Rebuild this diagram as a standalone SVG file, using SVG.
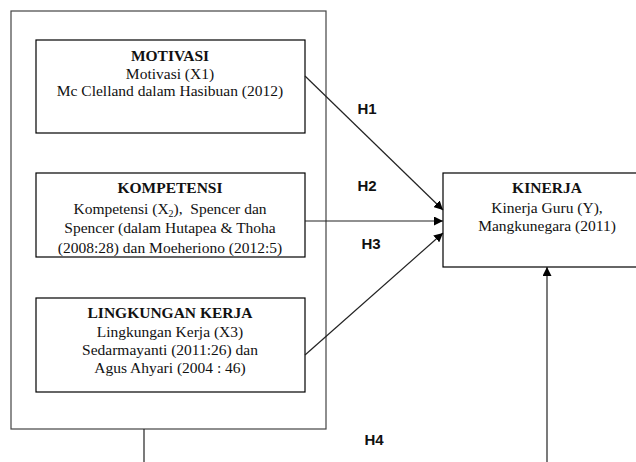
<svg xmlns="http://www.w3.org/2000/svg" width="636" height="462" viewBox="0 0 636 462">
<defs>
<style>
.box{fill:#fff;stroke:#000;stroke-width:1.2}
.outer{fill:none;stroke:#444;stroke-width:1.2}
.t{font-family:"Liberation Serif","Times New Roman",serif;font-size:15.5px;fill:#111;text-anchor:middle}
.b{font-weight:bold}
.h{font-family:"Liberation Sans",Arial,sans-serif;font-size:15px;font-weight:bold;fill:#111;text-anchor:middle}
.c{stroke:#222;stroke-width:1.2;fill:none}
</style>
<marker id="ah" viewBox="0 0 10 10" refX="10" refY="5" markerWidth="9" markerHeight="9" markerUnits="userSpaceOnUse" orient="auto">
<path d="M0,0 L10,5 L0,10 z" fill="#000"/>
</marker>
<clipPath id="kc"><rect x="36" y="173" width="269" height="84"/></clipPath>
</defs>
<rect width="636" height="462" fill="#fff"/>
<g id="outer"><rect class="outer" x="11" y="11" width="315" height="418"/></g>
<g id="motivasi">
<rect class="box" x="36" y="40" width="269" height="93"/>
<text class="t b" x="170" y="61">MOTIVASI</text>
<text class="t" x="170" y="79">Motivasi (X1)</text>
<text class="t" x="170" y="96">Mc Clelland dalam Hasibuan (2012)</text>
</g>
<g id="kompetensi">
<rect class="box" x="36" y="173" width="269" height="84"/>
<g clip-path="url(#kc)">
<text class="t b" x="170" y="193">KOMPETENSI</text>
<text class="t" x="170" y="214" xml:space="preserve">Kompetensi (X<tspan font-size="10" dy="3">2</tspan><tspan dy="-3">),  Spencer dan</tspan></text>
<text class="t" x="170" y="233">Spencer (dalam Hutapea &amp; Thoha</text>
<text class="t" x="170" y="253">(2008:28) dan Moeheriono (2012:5)</text>
</g>
</g>
<g id="lingkungan">
<rect class="box" x="36" y="298" width="269" height="94"/>
<text class="t b" x="170" y="318">LINGKUNGAN KERJA</text>
<text class="t" x="170" y="337">Lingkungan Kerja (X3)</text>
<text class="t" x="170" y="355">Sedarmayanti (2011:26) dan</text>
<text class="t" x="170" y="373">Agus Ahyari (2004 : 46)</text>
</g>
<g id="kinerja">
<rect class="box" x="443" y="173" width="210" height="94"/>
<text class="t b" x="547" y="193">KINERJA</text>
<text class="t" x="547" y="213">Kinerja Guru (Y),</text>
<text class="t" x="547" y="231">Mangkunegara (2011)</text>
</g>
<g id="connectors">
<line class="c" x1="305" y1="76" x2="443" y2="210" marker-end="url(#ah)"/>
<line class="c" x1="305" y1="221" x2="443" y2="221" marker-end="url(#ah)"/>
<line class="c" x1="305" y1="355" x2="443" y2="233" marker-end="url(#ah)"/>
<line class="c" x1="144" y1="429" x2="144" y2="462"/>
<line class="c" x1="547" y1="462" x2="547" y2="267" marker-end="url(#ah)"/>
</g>
<g id="labels">
<text class="h" x="367" y="114">H1</text>
<text class="h" x="367" y="191">H2</text>
<text class="h" x="371" y="249">H3</text>
<text class="h" x="374" y="445">H4</text>
</g>
</svg>
